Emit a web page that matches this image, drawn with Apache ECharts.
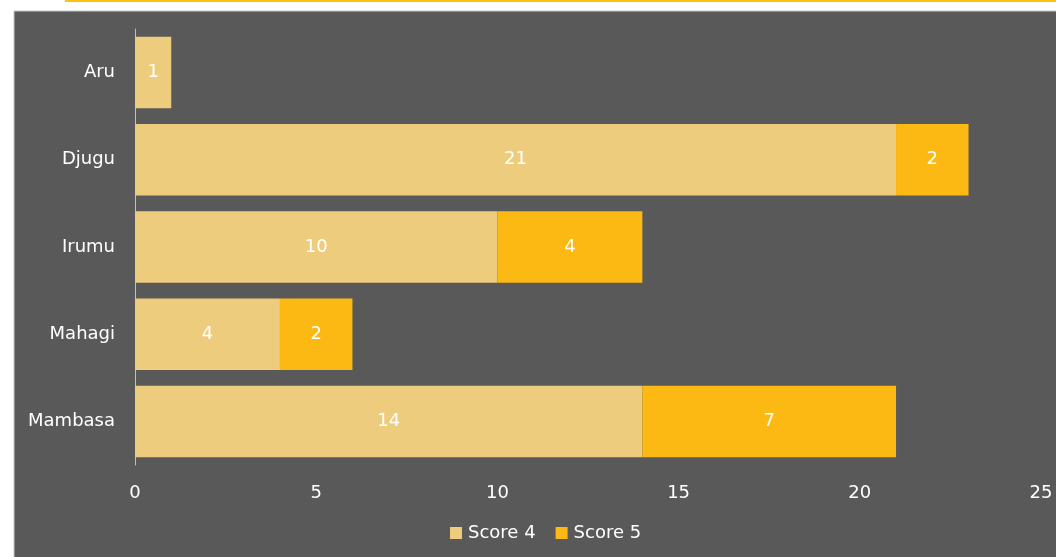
<!DOCTYPE html>
<html><head><meta charset="utf-8">
<script src="https://cdn.jsdelivr.net/npm/echarts@6/dist/echarts.min.js"></script>
<style>html,body{margin:0;padding:0;background:#fff;}#c{width:1056px;height:557px;}</style>
</head><body><div id="c"></div>
<script>
var categories = ['Aru', 'Djugu', 'Irumu', 'Mahagi', 'Mambasa'];
var score4 = [1, 21, 10, 4, 14];
var score5 = [null, 2, 4, 2, 7];
var xTicks = [0, 5, 10, 15, 20, 25];
var seriesNames = ['Score 4', 'Score 5'];

var chart = echarts.init(document.getElementById('c'));
var font = '"DejaVu Sans", sans-serif';
var lbl = {show: true, position: 'inside', color: '#fff', fontSize: 18, fontFamily: font,
  formatter: function (p) { return p.value == null ? '' : p.value; }};
chart.setOption({
  animation: false,
  backgroundColor: '#fff',
  graphic: [
    {type: 'rect', z: -10, shape: {x: 14, y: 11, width: 1060, height: 560}, style: {fill: '#595959', stroke: '#c8c8c8', lineWidth: 1}},
    {type: 'rect', z: -10, shape: {x: 65, y: 0, width: 1000, height: 2}, style: {fill: '#FDC010'}}
  ],
  grid: {left: 135, right: 15, top: 29, height: 436, containLabel: false},
  legend: {
    data: seriesNames, top: 519, left: 445, icon: 'rect', itemWidth: 12, itemHeight: 12, itemGap: 20, itemStyle: {borderWidth: 0},
    textStyle: {color: '#fff', fontSize: 18, fontFamily: font, padding: [0, 0, 0, 1]}
  },
  xAxis: {
    type: 'value', min: 0, max: 25, interval: 5,
    axisLine: {show: false}, axisTick: {show: false}, splitLine: {show: false},
    axisLabel: {color: '#fff', fontSize: 18, fontFamily: font, margin: 19,
      formatter: function (v) { return xTicks.indexOf(v) >= 0 ? String(v) : ''; }}
  },
  yAxis: {
    type: 'category', data: categories, inverse: true,
    axisLine: {show: true, lineStyle: {color: '#bfbfbf', width: 1}},
    axisTick: {show: false},
    axisLabel: {color: '#fff', fontSize: 18, fontFamily: font, margin: 20}
  },
  series: [
    {name: seriesNames[0], type: 'bar', stack: 's', data: score4, barWidth: '82%', itemStyle: {color: '#EDCC7D'}, label: lbl},
    {name: seriesNames[1], type: 'bar', stack: 's', data: score5, barWidth: '82%', itemStyle: {color: '#FDB913'}, label: lbl}
  ]
});
</script></body></html>
